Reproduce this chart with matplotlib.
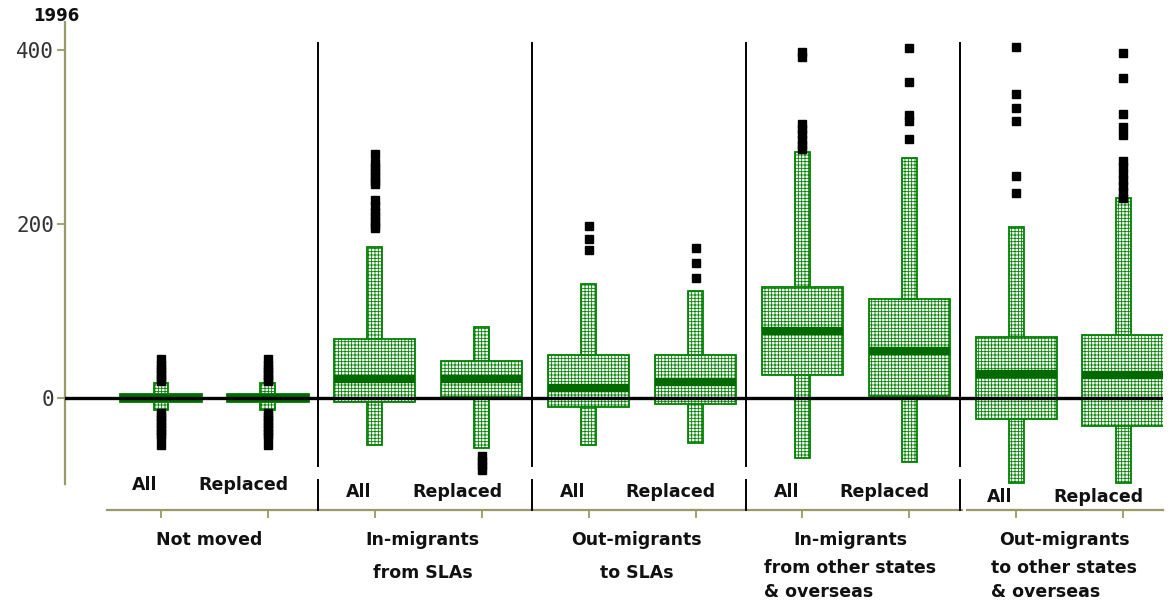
import matplotlib
matplotlib.use("Agg")
import matplotlib.pyplot as plt
from matplotlib.patches import Rectangle
from matplotlib.transforms import blended_transform_factory

_OLIVE = '#9a9a66'
_GREEN = '#008000'
_DARK_GREEN = '#006a00'
_BLACK = 'black'
_TEXT = '#111111'

_LABEL_SIZE = 12.5
_TICK_SIZE = 15

_BOX_WIDTH = 0.76
_WHISKER_WIDTH = 0.14

plt.rcParams['hatch.linewidth'] = 0.6

# Region groups, two distributions each
groups = [
    ["Not moved"],
    ["In-migrants", "from SLAs"],
    ["Out-migrants", "to SLAs"],
    ["In-migrants", "from other states", "& overseas"],
    ["Out-migrants", "to other states", "& overseas"],
]
subgroups = ["All", "Replaced"] * 5

whisker_lo = [-14, -14, -54, -57, -54, -52, -69, -73, -98, -98]
whisker_hi = [17, 17, 174, 82, 131, 123, 283, 276, 197, 230]
q1 = [-5, -5, -5, 1, -10, -7, 27, 2, -24, -32]
q3 = [5, 5, 68, 43, 49, 49, 128, 114, 70, 72]
medians = [0, 0, 22, 22, 12, 18, 77, 54, 28, 26]
outliers = [
    [45, 38, 34, 30, 26, 22, 19, -17, -21, -25, -29, -33, -37, -41, -45, -54],
    [45, 38, 34, 30, 26, 22, 19, -17, -21, -25, -29, -33, -37, -41, -45, -54],
    [280, 270, 265, 260, 255, 250, 246, 228, 221, 214, 209, 204, 199, 195],
    [-67, -72, -77, -83],
    [198, 183, 170],
    [172, 155, 138],
    [398, 392, 315, 309, 303, 297, 291, 286],
    [402, 363, 325, 318, 298],
    [404, 350, 333, 318, 255, 236],
    [397, 368, 326, 311, 302, 272, 265, 258, 251, 244, 237, 230],
]

# sub-label height per group (slightly staggered)
_SUB_Y = [-100, -108, -108, -108, -114]


def _draw_box(ax, x, lo, hi, a, b, med, pts):
    ax.add_patch(Rectangle((x - _WHISKER_WIDTH / 2, lo), _WHISKER_WIDTH, hi - lo,
                           facecolor='white', edgecolor=_GREEN, hatch='+++++',
                           linewidth=1.3, zorder=2))
    ax.add_patch(Rectangle((x - _BOX_WIDTH / 2, a), _BOX_WIDTH, b - a,
                           facecolor='white', edgecolor=_GREEN, hatch='+++++',
                           linewidth=1.3, zorder=3))
    ax.plot([x - _BOX_WIDTH / 2, x + _BOX_WIDTH / 2], [med, med],
            color=_DARK_GREEN, linewidth=6, solid_capstyle='butt', zorder=4)
    ax.plot([x] * len(pts), pts, linestyle='none', marker='s', markersize=5.5,
            color=_BLACK, zorder=6)


fig = plt.figure(figsize=(11.69, 6.03), dpi=100, facecolor='white')
W, H = 1169, 603
ax = fig.add_axes([65 / W, 1 - 510 / H, (1163 - 65) / W, (510 - 22) / H])

# pixel layout: box centres 161 + 106.9*i, zero at y=398, 0.87 px per unit
step = 106.9
ax.set_xlim((65 - 161) / step, (1163 - 161) / step)
ax.set_ylim((398 - 510) / 0.87, (398 - 22) / 0.87)

for i in range(len(subgroups)):
    _draw_box(ax, i, whisker_lo[i], whisker_hi[i], q1[i], q3[i], medians[i], outliers[i])

xmin, xmax = ax.get_xlim()
ymin, ymax = ax.get_ylim()

# zero line
ax.plot([xmin, xmax], [0, 0], color=_BLACK, linewidth=2.4, zorder=5)

# group separators
for g in range(1, len(groups)):
    sx = 2 * g - 0.53
    ax.plot([sx, sx], [408, -78], color=_BLACK, linewidth=1.4, zorder=5)
    ax.plot([sx, sx], [-94, ymin], color=_BLACK, linewidth=1.4, zorder=5, clip_on=False)

# axes lines
for side in ['top', 'right', 'bottom']:
    ax.spines[side].set_visible(False)
ax.spines['left'].set_color(_OLIVE)
ax.spines['left'].set_linewidth(1.6)
ax.spines['left'].set_bounds(-99, ymax)
ax.plot([(107 - 161) / step, 7.49], [ymin, ymin], color=_OLIVE, linewidth=1.6, clip_on=False)
ax.plot([7.54, xmax], [ymin, ymin], color=_OLIVE, linewidth=1.6, clip_on=False)

ax.set_yticks([0, 200, 400])
ax.set_yticklabels(['0', '200', '400'], family='DejaVu Sans Mono', fontsize=_TICK_SIZE, color='#333333')
ax.tick_params(axis='y', direction='out', length=6, width=1.3, color=_OLIVE, pad=2)
ax.set_xticks(range(len(subgroups)))
ax.set_xticklabels([])
ax.tick_params(axis='x', direction='out', length=6, width=1.3, color=_OLIVE)
ax.patch.set_visible(False)

# sub labels
for i, name in enumerate(subgroups):
    off = -0.15 if name == "All" else -0.23
    ax.text(i + off, _SUB_Y[i // 2], name, ha='center', va='center',
            fontsize=_LABEL_SIZE, fontweight='bold', color=_TEXT)

# group labels: first line centred, the rest as a left-aligned block
trans = blended_transform_factory(ax.transData, fig.transFigure)
for g, lines in enumerate(groups):
    cx = 2 * g + 0.5 - 0.05
    ax.text(cx, 1 - 540 / H, lines[0], transform=trans,
            ha='center', va='center', fontsize=_LABEL_SIZE, fontweight='bold', color=_TEXT)
    if len(lines) > 1:
        gap = 33 if len(lines) == 2 else 28
        ax.text(cx, 1 - (540 + gap - 9) / H, "\n".join(lines[1:]), transform=trans,
                ha='center', va='top', multialignment='left', linespacing=1.45,
                fontsize=_LABEL_SIZE, fontweight='bold', color=_TEXT)

fig.text(56 / W, 1 - 16 / H, "1996", ha='center', va='center',
         fontsize=12, fontweight='bold', color=_TEXT)

fig.savefig("out.png", dpi=100, facecolor='white')
